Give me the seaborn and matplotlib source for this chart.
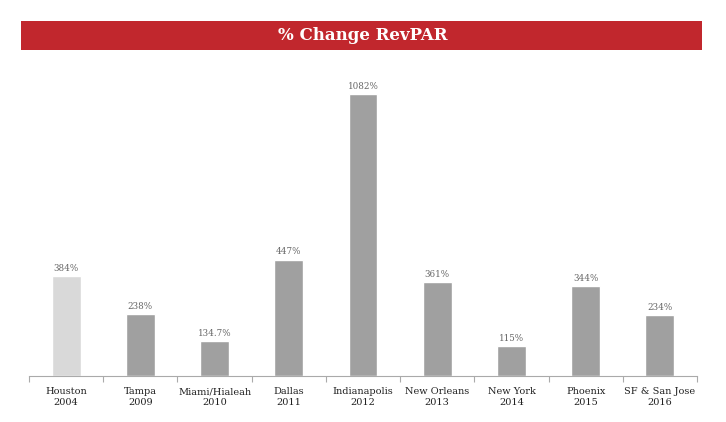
import matplotlib
matplotlib.use("Agg")
import matplotlib.pyplot as plt
from matplotlib.patches import Rectangle
import pandas as pd
import seaborn as sns

cities = ["Houston", "Tampa", "Miami/Hialeah", "Dallas", "Indianapolis",
          "New Orleans", "New York", "Phoenix", "SF & San Jose"]
years = ["2004", "2009", "2010", "2011", "2012", "2013", "2014", "2015", "2016"]
values = [384, 238, 134.7, 447, 1082, 361, 115, 344, 234]
value_labels = ["384%", "238%", "134.7%", "447%", "1082%", "361%", "115%", "344%", "234%"]

labels = [f"{c}\n{y}" for c, y in zip(cities, years)]
df = pd.DataFrame({"label": labels, "value": values})
colors = ["#d9d9d9"] + ["#a0a0a0"] * (len(values) - 1)

sns.set_style("white")
plt.rcParams["font.family"] = ["DejaVu Serif"]

fig = plt.figure(figsize=(7.26, 4.22), dpi=100)
ax = fig.add_axes([29 / 726, 1 - 376 / 422, 668 / 726, 306 / 422])

sns.barplot(data=df, x="label", y="value", hue="label", palette=colors,
            legend=False, width=0.39, ax=ax, saturation=1)

for i, (v, t) in enumerate(zip(values, value_labels)):
    ax.text(i, v + 12, t, ha="center", va="bottom", fontsize=6.3, color="#666666")

ax.set_xlim(-0.5, len(values) - 0.5)
ax.set_ylim(0, 1175)
ax.set_xlabel("")
ax.set_ylabel("")
ax.set_yticks([])
for s in ["top", "left", "right"]:
    ax.spines[s].set_visible(False)
ax.spines["bottom"].set_color("#aaaaaa")
ax.tick_params(axis="x", which="major", length=0, pad=8, labelsize=7, labelcolor="#222222")
ax.set_xticks([i - 0.5 for i in range(len(values) + 1)], minor=True)
ax.tick_params(axis="x", which="minor", bottom=True, length=4, width=0.8,
               color="#aaaaaa", direction="out")

# title banner
fig.patches.append(Rectangle((21 / 726, 1 - 50 / 422), 681 / 726, 29 / 422,
                             transform=fig.transFigure, facecolor="#c1272d",
                             edgecolor="none", zorder=0))
fig.text(0.5, 1 - 35.5 / 422, "% Change RevPAR", ha="center", va="center",
         fontsize=12, fontweight="bold", color="white")

fig.savefig("out.png", dpi=100)
